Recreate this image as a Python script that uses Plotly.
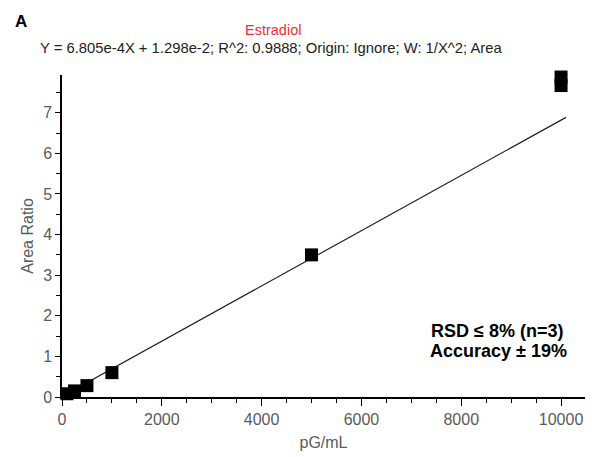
import plotly.graph_objects as go

# Data
conc = [100, 250, 500, 1000, 5000, 10000, 10000]
area_ratio = [0.08, 0.15, 0.28, 0.60, 3.50, 7.67, 7.88]
slope = 6.805e-4
intercept = 1.298e-2
fit_x = [0, 10100]
fit_y = [slope * v + intercept for v in fit_x]

gray = "#5a5a5a"
font_family = "Liberation Sans, Arial, sans-serif"

fig = go.Figure()
fig.add_trace(go.Scatter(x=fit_x, y=fit_y, mode="lines",
                         line=dict(color="#222222", width=1.2),
                         hoverinfo="skip", cliponaxis=False))
fig.add_trace(go.Scatter(x=conc, y=area_ratio, mode="markers",
                         marker=dict(symbol="square", size=13, color="black",
                                     line=dict(width=0)),
                         cliponaxis=False))

fig.update_layout(
    width=592, height=457,
    margin=dict(l=62, r=7, t=75, b=60),
    paper_bgcolor="white", plot_bgcolor="white",
    showlegend=False,
    font=dict(family=font_family, color=gray, size=16),
    xaxis=dict(range=[0, 10480], showgrid=False, zeroline=False,
               showline=True, linecolor="black", linewidth=1.5,
               ticks="outside", ticklen=7, tickwidth=1.3, tickcolor="black",
               tick0=0, dtick=2000, tickformat="d",
               minor=dict(dtick=500, ticks="outside", ticklen=4,
                          tickwidth=1.2, tickcolor="black"),
               tickfont=dict(size=16, color=gray),
               title=dict(text="pG/mL", font=dict(size=16, color=gray),
                          standoff=10)),
    yaxis=dict(range=[0, 7.93], showgrid=False, zeroline=False,
               showline=True, linecolor="black", linewidth=1.5,
               ticks="outside", ticklen=5, tickwidth=1.3, tickcolor="black",
               tick0=0, dtick=1,
               minor=dict(dtick=0.5, ticks="outside", ticklen=4,
                          tickwidth=1.2, tickcolor="black"),
               tickfont=dict(size=16, color=gray),
               title=dict(text="Area Ratio", font=dict(size=16, color=gray),
                          standoff=6)),
)


def pix_ann(text, px, py, size, color, bold=False, xanchor="center"):
    # convert pixel position to paper coords
    pw = 592 - 62 - 7
    ph = 457 - 75 - 60
    xp = (px - 62) / pw
    yp = (457 - 60 - py) / ph
    fig.add_annotation(x=xp, y=yp, xref="paper", yref="paper",
                       text=f"<b>{text}</b>" if bold else text,
                       showarrow=False, xanchor=xanchor, yanchor="middle",
                       font=dict(size=size, color=color, family=font_family))


pix_ann("A", 13, 21, 17, "black", bold=True, xanchor="left")
pix_ann("Estradiol", 273, 30, 14.5, "#e8303a")
pix_ann("Y = 6.805e-4X + 1.298e-2; R^2: 0.9888; Origin: Ignore; W: 1/X^2; Area",
        271, 48, 14.8, "#222222")
pix_ann("RSD ≤ 8% (n=3)", 429, 331, 18, "black", bold=True, xanchor="left")
pix_ann("Accuracy ± 19%", 428, 351, 18, "black", bold=True, xanchor="left")

fig.write_html("out.html")
